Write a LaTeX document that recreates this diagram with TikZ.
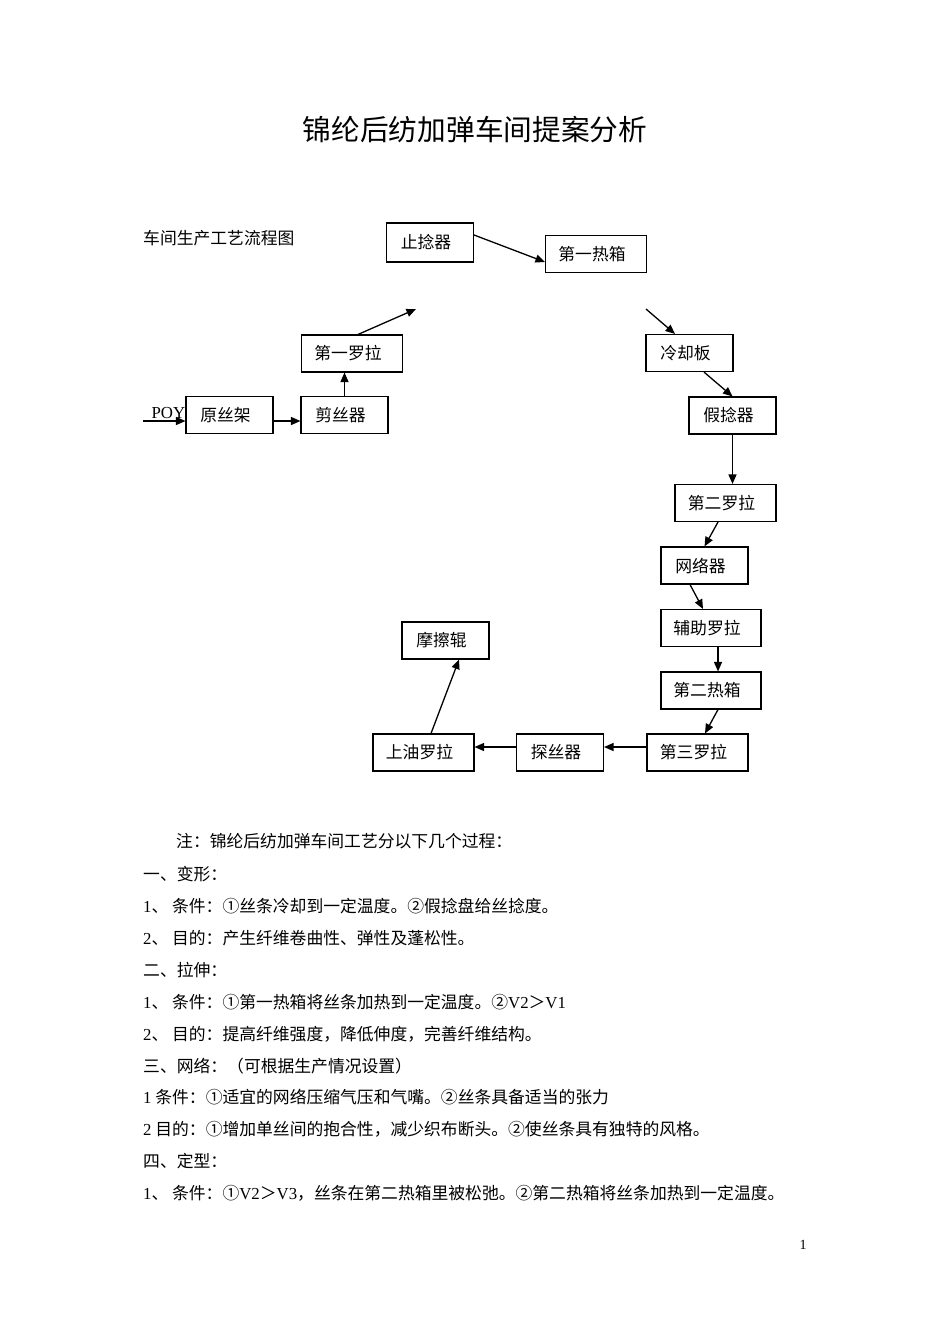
\documentclass[tikz,border=0pt]{standalone}
\usepackage{fontspec}
\setmainfont{Liberation Serif}
\newfontfamily\cjk{Noto Sans CJK SC}
\usepackage{tikz}
\usetikzlibrary{
    positioning,
    arrows.meta,
}
\newcommand{\lat}[1]{{\rmfamily #1}}
\tikzset{
    % Box styles
    box/.style={rectangle, draw, line width=1.1pt, minimum height=37pt,
                minimum width=87pt, inner sep=0pt, fill=white,
                execute at begin node={\hspace*{-8pt}},
                font=\cjk\fontsize{16.8}{20}\selectfont},
    wide box/.style={box, minimum width=101pt},
    % Arrow styles
    arrow/.style={-{Triangle[length=9.5pt, width=8pt]}, line width=1.3pt},
    % Text styles
    txt/.style={font=\cjk\fontsize{16.8}{20}\selectfont, inner sep=0pt, anchor=west},
}

\begin{document}
\begin{tikzpicture}[x=1pt, y=-1pt]
    \useasboundingbox (0,0) rectangle (950,1344);

    % Title
    \node[font=\cjk\fontsize{28.7}{32}\selectfont] (title) at (475,130) {锦纶后纺加弹车间提案分析};
    \node[txt] (subtitle) at (143,238) {车间生产工艺流程图};

    % Upper row
    \node[box] (yuan) at (229.5,415) {原丝架};
    \node[box] (jian) at (344.5,415) {剪丝器};
    \node[wide box] (luo1) at (352,353.5) {第一罗拉};
    \node[box, minimum height=39pt] (zhi) at (430,242.5) {止捻器};
    \node[wide box] (re1) at (596,254) {第一热箱};
    \node[box] (leng) at (689.5,353) {冷却板};
    \node[box] (jia) at (732.5,415.5) {假捻器};

    % Right column
    \node[wide box] (luo2) at (725.5,503) {第二罗拉};
    \node[box] (wang) at (704.5,565.5) {网络器};
    \node[box, minimum width=100pt] (fu) at (711,628) {辅助罗拉};
    \node[box, minimum width=100pt] (re2) at (711,690.5) {第二热箱};

    % Lower row
    \node[wide box] (luo3) at (697.5,752.5) {第三罗拉};
    \node[box] (tan) at (560,752.5) {探丝器};
    \node[wide box] (you) at (423.5,752.5) {上油罗拉};
    \node[box] (mo) at (445.5,640.5) {摩擦辊};

    % Free ends
    \coordinate (poy) at (143,421);
    \coordinate (gap1) at (416,309);
    \coordinate (gap2) at (646,309);
    \node[anchor=base east, inner sep=0pt, font=\fontsize{16.8}{20}\selectfont]
        (poylabel) at ([yshift=-3pt]yuan.west) {POY};

    % Flow arrows
    \draw[arrow] (poy) -- (yuan.west |- poy);
    \draw[arrow] (yuan.east |- poy) -- (jian.west |- poy);
    \draw[arrow] (jian.north) -- (jian.north |- luo1.south);
    \draw[arrow] ([xshift=6pt]luo1.north) -- (gap1);
    \draw[arrow] ([yshift=7.5pt]zhi.east) -- ([yshift=-8pt]re1.west);
    \draw[arrow] (gap2) -- ([xshift=-14.5pt]leng.north);
    \draw[arrow] ([xshift=14.5pt]leng.south) -- (jia.north);
    \draw[arrow] (jia.south) -- (jia.south |- luo2.north);
    \draw[arrow] ([xshift=-7.5pt]luo2.south) -- (wang.north);
    \draw[arrow] ([xshift=-14.5pt]wang.south) -- ([xshift=-8pt]fu.north);
    \draw[arrow] ([xshift=7pt]fu.south) -- ([xshift=7pt]re2.north);
    \draw[arrow] ([xshift=7pt]re2.south) -- ([xshift=7.5pt]luo3.north);
    \draw[arrow] ([yshift=5.5pt]luo3.west) -- ([yshift=5.5pt]tan.east);
    \draw[arrow] ([yshift=5.5pt]tan.west) -- ([yshift=5.5pt]you.east);
    \draw[arrow] ([xshift=7.5pt]you.north) -- ([xshift=13.5pt]mo.south);

    % Notes
    \node[txt] (note) at (176,841) {注：锦纶后纺加弹车间工艺分以下几个过程：};
    \foreach \y/\t [count=\i] in {
        874/{一、变形：},
        906/{\lat{1}、 条件：①丝条冷却到一定温度。②假捻盘给丝捻度。},
        938/{\lat{2}、 目的：产生纤维卷曲性、弹性及蓬松性。},
        970/{二、拉伸：},
        1002/{\lat{1}、 条件：①第一热箱将丝条加热到一定温度。②\lat{V2}＞\lat{V1}},
        1034/{\lat{2}、 目的：提高纤维强度，降低伸度，完善纤维结构。},
        1066/{三、网络：（可根据生产情况设置）},
        1097/{\lat{1} 条件：①适宜的网络压缩气压和气嘴。②丝条具备适当的张力},
        1129/{\lat{2} 目的：①增加单丝间的抱合性，减少织布断头。②使丝条具有独特的风格。},
        1161/{四、定型：},
        1193/{\lat{1}、 条件：①\lat{V2}＞\lat{V3}，丝条在第二热箱里被松弛。②第二热箱将丝条加热到一定温度。}} {
        \node[txt] (line\i) at (143,\y) {\t};
    }

    % Page number
    \node[font=\fontsize{14}{16}\selectfont] (page) at (803,1245) {1};
\end{tikzpicture}
\end{document}
